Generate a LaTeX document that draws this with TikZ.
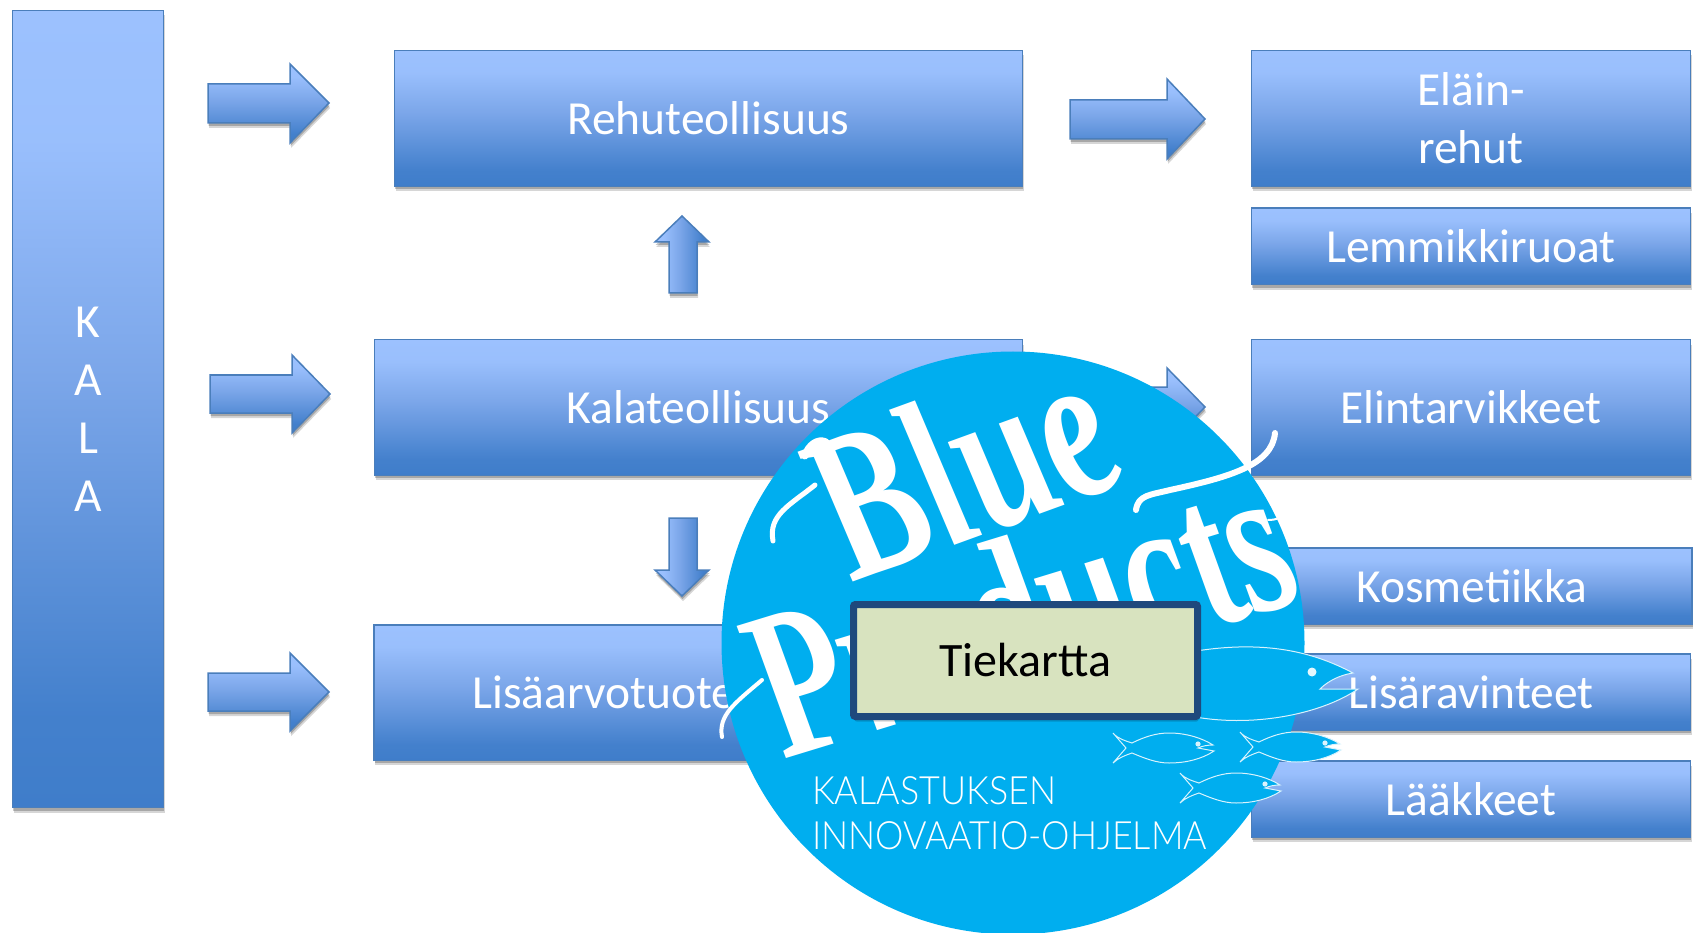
\documentclass[tikz,border=0pt]{standalone}
\usepackage{fontspec}
\setmainfont{Carlito}
\newfontfamily\logoscript{Liberation Serif}
\newfontfamily\logosans{Lato Light}
\usetikzlibrary{shadows}
\definecolor{gradtop}{HTML}{9CC1FE}
\definecolor{gradmid}{HTML}{7BA6E9}
\definecolor{gradbot}{HTML}{3F7DCA}
\definecolor{edgeblue}{HTML}{4A7EBB}
\definecolor{logocyan}{HTML}{00AEEF}
\definecolor{navy}{HTML}{1F497D}
\definecolor{paleolive}{HTML}{D8E3BF}
\pgfdeclareverticalshading{boxgrad}{100bp}{
 color(0bp)=(gradbot); color(25bp)=(gradbot); color(31bp)=(gradbot!95!gradtop);
 color(52bp)=(gradmid); color(67bp)=(gradtop!97!gradbot); color(75bp)=(gradtop); color(100bp)=(gradtop)}
\tikzset{
 softshadow/.style={drop shadow={shadow xshift=1pt,shadow yshift=-5pt,opacity=.16,fill=black},
   drop shadow={shadow xshift=.5pt,shadow yshift=-3pt,opacity=.22,fill=black}},
 gradbox/.style={shading=boxgrad,draw=edgeblue,line width=1.5pt,softshadow,inner sep=0pt,
   text=white,align=center,font=\fontsize{47.5}{58}\selectfont},
 blockarrow/.style={shading=boxgrad,draw=edgeblue,line width=1.5pt,softshadow,line join=miter},
 sidearrow/.style={blockarrow,shading angle=90},
 fishline/.style={fill=logocyan,draw=white!85!logocyan,line width=1pt},
 swash/.style={draw=white,line cap=round,line join=round},
 logoword/.style={transform shape,text=white,anchor=base,inner sep=0pt,
   font=\logoscript\bfseries\itshape\fontsize{215}{215}\selectfont},
 logoline/.style={transform shape,text=white,anchor=base west,inner sep=0pt,font=\logosans\fontsize{39}{39}\selectfont},
}
\newcommand{\smallfish}[2]{%
 \begin{scope}[shift={(#1,#2)}]
 \path[fishline] (0,0) -- (-13,-15) .. controls (-8,-9) and (0,-7) .. (6,-5)
   .. controls (18,-11) and (30,-15) .. (43,-15) .. controls (60,-15) and (76,-10) .. (87,-3)
   .. controls (82,-3) and (76,-2) .. (72,0) -- (88,3)
   .. controls (76,11) and (60,15) .. (43,15) .. controls (30,15) and (18,10) .. (6,5)
   .. controls (0,7) and (-8,10) .. (-13,15) -- cycle;
 \fill[white!85!logocyan] (72,-4) circle (2.6);
 \end{scope}}
\begin{document}
\begin{tikzpicture}[x=1pt,y=-1pt]
\useasboundingbox (0,0) rectangle (1698,933);
% left column and centre boxes
\node (kala) [gradbox,minimum width=151pt,minimum height=797pt] at (88,409) {K\\A\\L\\A};
\node (rehu) [gradbox,minimum width=628pt,minimum height=136pt] at (708.5,118.5) {Rehuteollisuus};
\node (kalat) [gradbox,minimum width=648pt,minimum height=135.5pt] at (698.5,407.5) {Kalateollisuus};
\node (lisa) [gradbox,minimum width=460pt,minimum height=135.5pt] at (604,692.5) {Lisäarvotuote};
% right column
\node (elain) [gradbox,minimum width=439pt,minimum height=136pt] at (1471,118.5) {Eläin-\\rehut};
\node (lemmikki) [gradbox,minimum width=439pt,minimum height=76.5pt] at (1471,246.5) {Lemmikkiruoat};
\node (elintarv) [gradbox,minimum width=439pt,minimum height=135.5pt] at (1471,407.5) {Elintarvikkeet};
\node (kosme) [gradbox,minimum width=440pt,minimum height=76.5pt] at (1472,586) {Kosmetiikka};
\node (ravinne) [gradbox,minimum width=439pt,minimum height=76.5pt] at (1471,692) {Lisäravinteet};
\node (laake) [gradbox,minimum width=439pt,minimum height=76.5pt] at (1471,799) {Lääkkeet};
% block arrows
\path[blockarrow] (208,84) -- (290,84) -- (290,64) -- (329,103) -- (290,143) -- (290,123) -- (208,123) -- cycle;
\path[blockarrow] (210,375) -- (292,375) -- (292,355) -- (330,394) -- (292,433) -- (292,413) -- (210,413) -- cycle;
\path[blockarrow] (208,673) -- (290,673) -- (290,653) -- (329,692) -- (290,731) -- (290,711) -- (208,711) -- cycle;
\path[blockarrow] (1070,100) -- (1167,100) -- (1167,79) -- (1205,119) -- (1167,159) -- (1167,139) -- (1070,139) -- cycle;
\path[blockarrow] (1070,387) -- (1167,387) -- (1167,368) -- (1205,407) -- (1167,446) -- (1167,427) -- (1070,427) -- cycle;
\path[sidearrow] (669,293) -- (669,242) -- (655,242) -- (682,216) -- (709,242) -- (697,242) -- (697,293) -- cycle;
\path[sidearrow] (669,518) -- (669,570) -- (655,570) -- (682,596) -- (709,570) -- (697,570) -- (697,518) -- cycle;
% logo
\node (logo) [circle,fill=logocyan,minimum size=583pt,inner sep=0pt] at (1013,643) {};
\path[swash,line width=5pt] (773,541) .. controls (768,515) and (790,505) .. (815,485);
\path[swash,line width=7pt] (805,456) .. controls (808,445) and (818,438) .. (826,442);
\path[swash,line width=4pt] (722,737) .. controls (718,715) and (735,703) .. (762,680);
\path[swash,line width=6pt] (1136,510) .. controls (1138,495) and (1150,495) .. (1170,490)
   .. controls (1230,477) and (1272,465) .. (1275,433);
\path[swash,line width=2pt] (1268,520) .. controls (1285,520) and (1290,510) .. (1288,497);
\node (blue) [logoword,rotate=20,xscale=.72,xslant=-.25] at (996,530) {Blue};
\node (products) [logoword,rotate=17,xscale=.70,xslant=-.25] at (1050,678) {Products};
\node (kalastuksen) [logoline,xscale=.92] at (812,804) {KALASTUKSEN};
\node (ohjelma) [logoline,xscale=.92] at (812,849) {INNOVAATIO-OHJELMA};
% fish
\path[fishline] (1190,652) .. controls (1260,640) and (1310,650) .. (1353,673)
  .. controls (1340,675) and (1328,681) .. (1320,689) -- (1358,689)
  .. controls (1320,715) and (1250,728) .. (1190,716);
\fill[white!90!logocyan] (1312,672) circle (4.5);
\smallfish{1126}{748}
\smallfish{1253}{747}
\smallfish{1193}{788}
% title box
\node (tiekartta) [draw=navy,fill=paleolive,line width=7pt,rounded corners=2pt,
  minimum width=344pt,minimum height=112pt,inner sep=0pt,softshadow,text=black,
  font=\fontsize{48}{56}\selectfont] at (1025.5,660.5) {Tiekartta};
\end{tikzpicture}
\end{document}
